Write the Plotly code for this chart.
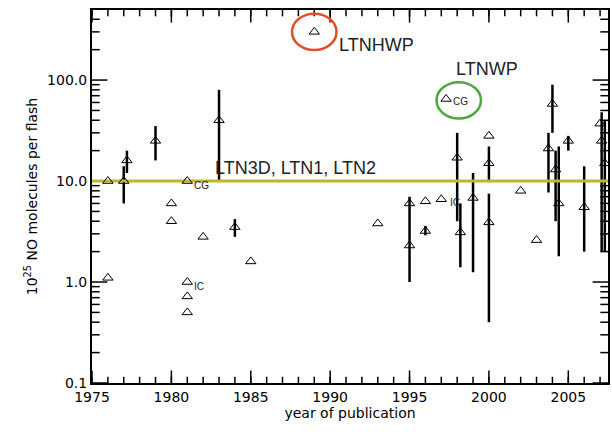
import plotly.graph_objects as go
import math

years = [1976, 1976, 1977, 1977.2, 1979, 1980, 1980, 1981, 1981, 1981, 1981, 1982, 1983, 1984, 1985,
         1989, 1993, 1995, 1995, 1996, 1996, 1997, 1997.3, 1998, 1998.2, 1999, 2000, 2000, 2000,
         2002, 2003, 2003.75, 2004, 2004.2, 2004.4, 2005, 2006, 2007, 2007.1, 2007.3]
values = [10, 1.1, 10, 16, 25, 6, 4, 10, 1.0, 0.72, 0.5, 2.8, 40, 3.5, 1.6,
          300, 3.8, 6, 2.3, 6.3, 3.2, 6.6, 65, 17, 3.1, 6.8, 28, 15, 3.9,
          8, 2.6, 21, 58, 13, 6, 25, 5.5, 37, 25, 15]
err_lo = [None, None, 6, 12, 16, None, None, None, None, None, None, None, 10, 2.8, None,
          None, None, 1.0, None, None, 2.9, None, None, 4, 1.4, 1.25, None, 10, 0.4,
          None, None, 7.7, 30, 4, 1.8, 20, 2, None, 2, 2]
err_hi = [None, None, 14, 20, 35, None, None, None, None, None, None, None, 80, 4.2, None,
          None, None, 7, None, None, 3.6, None, None, 30, 6, 12, None, 22, 7.5,
          None, None, 30, 90, 20, 22, 28, 14, None, 48, 40]
ref_value = 10
ref_labels = ["LTN3D, LTN1, LTN2", "LTNHWP", "LTNWP"]
x_ticks = [1975, 1980, 1985, 1990, 1995, 2000, 2005]
x_minor = list(range(1975, 2008))
y_ticks = [0.1, 1, 10, 100]
y_minor = [v * d for d in [0.1, 1, 10, 100] for v in range(2, 10) if v * d < 494]

X0, X1 = 1975, 2007.5
Y0, Y1 = 0.1, 494

fig = go.Figure()
def ticks(xs, ys, sym, size):
    fig.add_trace(go.Scatter(x=xs, y=ys, mode="markers", hoverinfo="skip",
                             marker=dict(symbol=sym, size=size, color="black",
                                         line=dict(color="black", width=1.5))))
ticks(x_minor * 2, [Y0] * len(x_minor) + [Y1] * len(x_minor), "line-ns-open", 9)
ticks(x_ticks * 2, [Y0] * len(x_ticks) + [Y1] * len(x_ticks), "line-ns-open", 18)
ticks([X0] * len(y_minor) + [X1] * len(y_minor), y_minor * 2, "line-ew-open", 11)
ticks([X0] * len(y_ticks) + [X1] * len(y_ticks), y_ticks * 2, "line-ew-open", 22)

ex, ey = [], []
for x, lo, hi in zip(years, err_lo, err_hi):
    if lo is not None:
        ex += [x, x, None]; ey += [lo, hi, None]
fig.add_trace(go.Scatter(x=ex, y=ey, mode="lines", line=dict(color="black", width=2.5), hoverinfo="skip"))
fig.add_trace(go.Scatter(x=[X0, X1], y=[ref_value, ref_value], mode="lines",
                         line=dict(color="#bdb72f", width=3)))
fig.add_trace(go.Scatter(x=years, y=values, mode="markers",
                         marker=dict(symbol="triangle-up-open", size=9, color="black", line=dict(width=1, color="black"))))

font = dict(family="Liberation Sans", color="#222")
def ann(x, y, t, size, xa="left"):
    fig.add_annotation(x=x, y=math.log10(y), text=t, showarrow=False, xanchor=xa,
                       font=dict(size=size, **font))
ann(1982.6, 13.5, ref_labels[0], 18)
ann(1990.4, 220, ref_labels[1], 18)
ann(1997.8, 130, ref_labels[2], 18)
ann(1981.3, 9.0, "CG", 10)
ann(1997.6, 61, "CG", 10)
ann(1981.3, 0.9, "IC", 10)
ann(1997.4, 6.1, "IC", 10)

for cx, cy, col in [(1989.0, 300, "#e0502a"), (1998.1, 63, "#4aab3a")]:
    k = 10 ** 0.18
    fig.add_shape(type="circle", xref="x", yref="y", x0=cx - 1.4, x1=cx + 1.4, y0=cy / k, y1=cy * k,
                  line=dict(color=col, width=2.5))

fig.update_layout(width=612, height=432, margin=dict(l=92, r=2, t=10, b=49),
                  plot_bgcolor="white", paper_bgcolor="white", showlegend=False,
                  font=dict(family="DejaVu Sans", size=14, color="black"))
fig.update_xaxes(range=[X0, X1], tickmode="array", tickvals=x_ticks, ticks="",
                 mirror=True, showline=True, linecolor="black", linewidth=2,
                 showgrid=False, zeroline=False,
                 title=dict(text="year of publication", standoff=4, font=dict(size=14)))
fig.update_yaxes(type="log", range=[math.log10(Y0), math.log10(Y1)], tickmode="array", tickvals=y_ticks,
                 ticktext=["0.1", "1.0", "10.0", "100.0"], ticks="", mirror=True,
                 showline=True, linecolor="black", linewidth=2, showgrid=False,
                 title=dict(text="10<sup>25</sup> NO molecules per flash", standoff=6, font=dict(size=14)))
fig.write_html("out.html", config={"displayModeBar": False})
with open("out.html") as f:
    html = f.read()
html = html.replace("<head>", "<head><style>html,body{margin:0;padding:0;overflow:hidden}</style>", 1)
with open("out.html", "w") as f:
    f.write(html)
